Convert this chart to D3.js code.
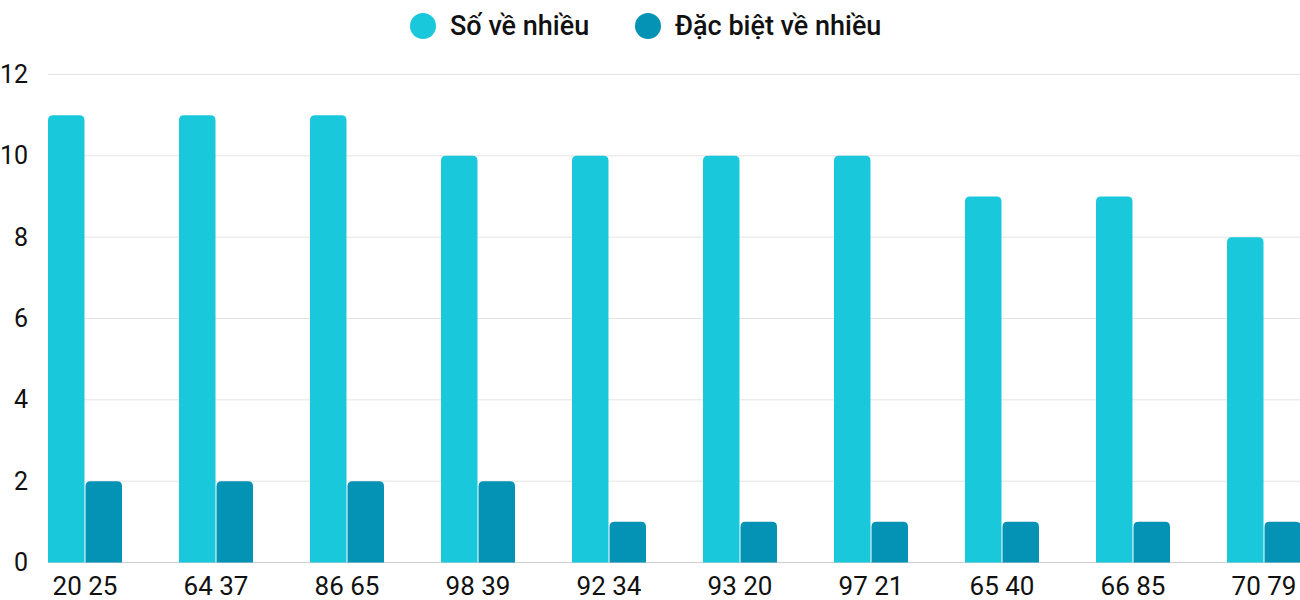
<html>
<head>
  <meta charset="utf-8">
  <title>Số về nhiều</title>
  <style>
    body { margin: 0; background: #fff; }
    text { font-family: Roboto, Arial, sans-serif; fill: #111; }
  </style>
  <script src="https://d3js.org/d3.v7.min.js"></script>
</head>
<body>
  <div id="chart"></div>
  <script>
    // Data
    const pairs = ["20 25", "64 37", "86 65", "98 39", "92 34", "93 20", "97 21", "65 40", "66 85", "70 79"];
    const soVeNhieu = [11, 11, 11, 10, 10, 10, 10, 9, 9, 8];
    const dacBietVeNhieu = [2, 2, 2, 2, 1, 1, 1, 1, 1, 1];
    const seriesNames = ["Số về nhiều", "Đặc biệt về nhiều"];
    const colors = ["#1ac8db", "#0493b5"];
    const yTicks = [0, 2, 4, 6, 8, 10, 12];

    const width = 1300, height = 600;
    const plotLeft = 48, plotRight = 1300, plotTop = 74.5, plotBottom = 562.5;

    const svg = d3.select("#chart").append("svg")
      .attr("width", width).attr("height", height);

    const y = d3.scaleLinear().domain([0, 12]).range([plotBottom, plotTop]);
    const x = d3.scalePoint().domain(pairs).range([85, 1264]);
    const xSub = d3.scaleBand().domain([0, 1]).range([-37, 37]).paddingInner(0.027);

    // Gridlines
    svg.append("g").selectAll("line").data(yTicks).join("line")
      .attr("x1", plotLeft).attr("x2", plotRight)
      .attr("y1", d => y(d)).attr("y2", d => y(d))
      .attr("stroke", d => d === 0 ? "#cfcfcf" : "#e3e3e3")
      .attr("stroke-width", 1);

    // Y labels
    svg.append("g").selectAll("text").data(yTicks).join("text")
      .attr("x", 28).attr("y", d => y(d))
      .attr("text-anchor", "end").attr("dominant-baseline", "central")
      .style("font-size", "25px")
      .text(d => d);

    // Bars with rounded top corners
    function barPath(x0, w, y0, y1, r) {
      r = Math.min(r, w / 2, y1 - y0);
      return `M${x0},${y1}V${y0 + r}Q${x0},${y0} ${x0 + r},${y0}H${x0 + w - r}Q${x0 + w},${y0} ${x0 + w},${y0 + r}V${y1}Z`;
    }

    const series = [soVeNhieu, dacBietVeNhieu];
    series.forEach((vals, si) => {
      svg.append("g").selectAll("path").data(vals).join("path")
        .attr("fill", colors[si])
        .attr("d", (v, i) => barPath(x(pairs[i]) + xSub(si), xSub.bandwidth(), y(v), y(0), 5));
    });

    // X labels
    svg.append("g").selectAll("text").data(pairs).join("text")
      .attr("x", d => x(d)).attr("y", 595)
      .attr("text-anchor", "middle")
      .style("font-size", "26px")
      .text(d => d);

    // Legend
    const legendX = [423, 648];
    const legend = svg.append("g");
    seriesNames.forEach((name, i) => {
      legend.append("circle")
        .attr("cx", legendX[i]).attr("cy", 26).attr("r", 13)
        .attr("fill", colors[i]);
      legend.append("text")
        .attr("x", legendX[i] + 27).attr("y", 26)
        .attr("dominant-baseline", "central")
        .style("font-size", "27px").style("font-weight", 500)
        .text(name);
    });
  </script>
</body>
</html>
